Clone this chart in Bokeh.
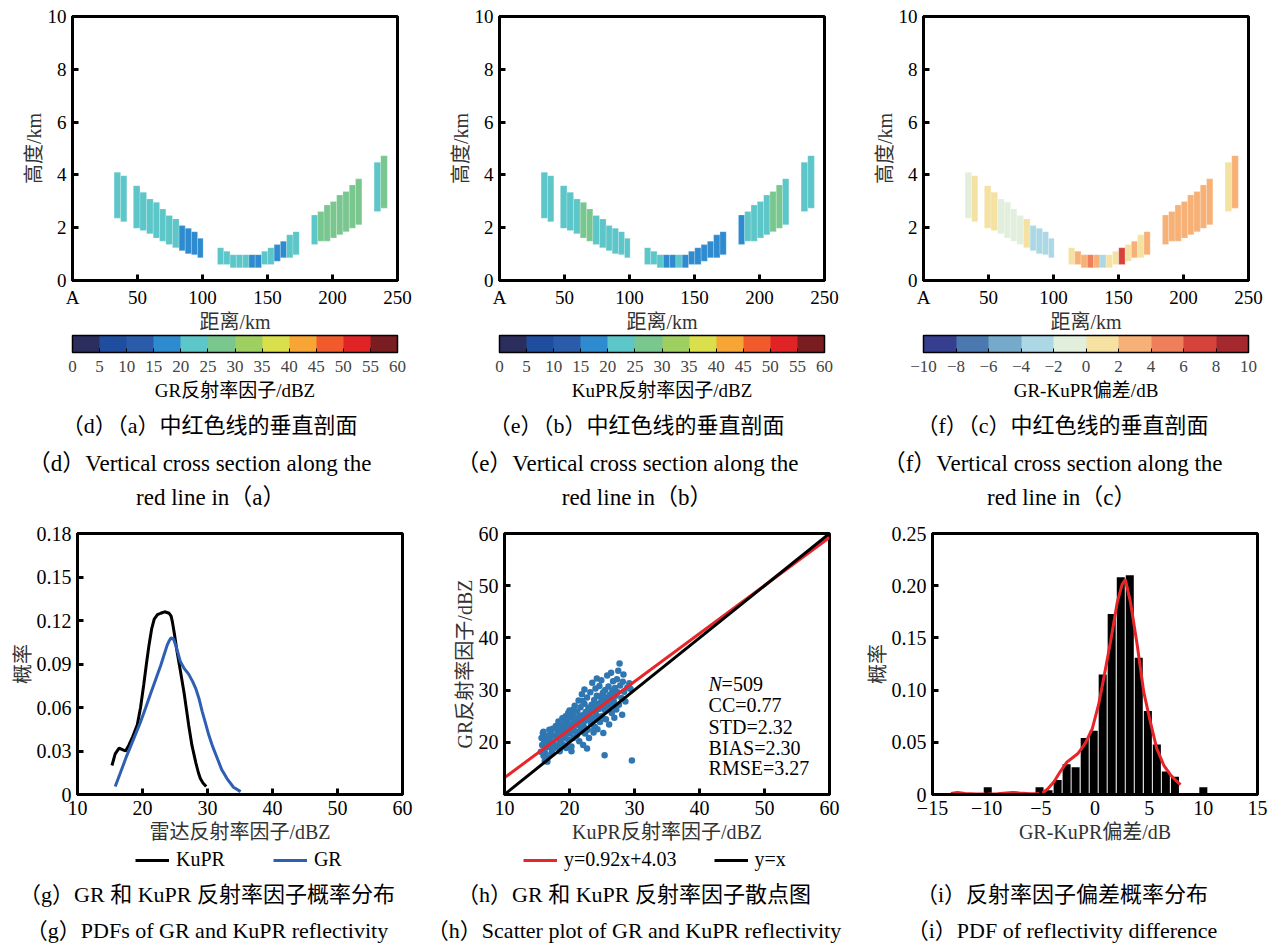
from bokeh.plotting import figure
from bokeh.layouts import column, row
from bokeh.models import (ColumnDataSource, LinearColorMapper, ColorBar, FixedTicker,
                          Title, Legend, LegendItem, Label)
from bokeh.transform import linear_cmap
from bokeh.embed import file_html
from bokeh.resources import INLINE

SERIF = "Liberation Serif"
FONT = '"Liberation Serif", "Noto Sans CJK SC"'

# ---------------- cross-section data (d)(e)(f) ----------------
col_left = [32.0, 37.0,
            46.8, 51.9, 57.0, 62.1, 67.0, 71.8, 76.9, 82.0, 86.7, 91.5, 96.2,
            111.5, 116.3, 121.2, 126.0, 130.9, 135.7, 140.5, 145.4, 150.2, 155.1, 159.9, 164.7, 169.6,
            183.8, 188.6, 193.5, 198.3, 203.2, 208.0, 212.9, 217.7,
            232.0, 237.1]
col_right = [37.0, 41.8,
             51.9, 57.0, 62.1, 67.0, 71.8, 76.9, 82.0, 86.7, 91.5, 96.2, 100.5,
             116.3, 121.2, 126.0, 130.9, 135.7, 140.5, 145.4, 150.2, 155.1, 159.9, 164.7, 169.6, 174.4,
             188.6, 193.5, 198.3, 203.2, 208.0, 212.9, 217.7, 222.6,
             237.1, 242.2]
col_bottom = [2.36, 2.23,
              1.98, 1.89, 1.77, 1.61, 1.49, 1.36, 1.24, 1.13, 1.01, 0.98, 0.86,
              0.61, 0.61, 0.48, 0.48, 0.48, 0.48, 0.48, 0.61, 0.61, 0.73, 0.86, 0.86, 0.98,
              1.36, 1.49, 1.49, 1.61, 1.73, 1.85, 1.98, 2.11,
              2.61, 2.74]
col_top = [4.10, 3.97,
           3.59, 3.34, 3.09, 2.96, 2.71, 2.46, 2.33, 2.08, 1.98, 1.85, 1.60,
           1.24, 1.11, 0.98, 0.98, 0.98, 0.98, 0.98, 1.11, 1.24, 1.36, 1.49, 1.73, 1.85,
           2.48, 2.61, 2.86, 2.99, 3.24, 3.37, 3.62, 3.85,
           4.48, 4.73]
gr_dbz = [22.5, 23.4,
          23.8, 22.9, 24.1, 22.6, 23.5, 21.8, 22.2, 17.6, 18.4, 17.9, 18.8,
          21.4, 22.3, 23.1, 24.0, 22.7, 18.9, 17.5, 21.6, 22.8, 18.2, 19.1, 21.3, 22.0,
          21.7, 26.4, 27.1, 26.8, 27.5, 28.0, 27.3, 26.9,
          24.2, 27.6]
ku_dbz = [22.8, 21.9,
          22.6, 21.7, 24.5, 26.0, 25.7, 23.9, 22.4, 21.1, 21.5, 20.6, 20.9,
          20.8, 21.5, 22.4, 19.2, 18.6, 21.3, 16.9, 18.1, 16.4, 17.2, 17.5, 16.8, 17.9,
          18.5, 23.4, 22.9, 24.6, 23.8, 26.3, 25.8, 22.7,
          21.3, 24.4]
diff_db = [-0.6, 1.3,
           1.1, 1.0, -0.4, -1.2, -0.9, -1.6, 0.8, -2.6, -3.1, -2.7, -2.3,
           0.9, 2.4, 2.8, 4.6, 2.5, -2.4, 0.6, 1.4, 6.3, 1.0, 2.6, 1.5, 2.7,
           3.2, 2.9, 3.5, 2.6, 3.7, 2.2, 2.8, 3.4,
           1.6, 3.1]

dist_ticks = [0, 50, 100, 150, 200, 250]
height_ticks = [0, 2, 4, 6, 8, 10]
dbz_ticks = [0, 5, 10, 15, 20, 25, 30, 35, 40, 45, 50, 55, 60]
diff_ticks = [-10, -8, -6, -4, -2, 0, 2, 4, 6, 8, 10]

DBZ_PALETTE = ["#2b2e5c", "#1f4e9e", "#2a5caa", "#2f8bcf", "#5cc6c9", "#79c78f",
               "#9fcf60", "#d9e04c", "#f7a635", "#f15a2b", "#e02426", "#7a1d20"]
DIFF_PALETTE = ["#363e90", "#4a78af", "#75aacb", "#acd8e6", "#e1efdc",
                "#f5e2a3", "#f7b176", "#ef7e5b", "#d6433a", "#a3292f"]

# ---------------- PDF data (g) ----------------
ku_pdf_x = [15.3, 15.8, 16.4, 16.9, 17.4, 17.9, 18.5, 19.2, 19.7, 20.2, 20.6, 21.0, 21.4, 21.8,
            22.3, 22.8, 23.4, 24.1, 24.4, 24.6, 24.9, 25.3, 25.8, 26.4, 27.1, 27.6, 28.2, 28.6,
            28.9, 29.3, 29.8]
ku_pdf_y = [0.020, 0.028, 0.032, 0.031, 0.030, 0.034, 0.040, 0.048, 0.060, 0.076, 0.090, 0.103,
            0.114, 0.121, 0.124, 0.125, 0.126, 0.125, 0.123, 0.119, 0.111, 0.099, 0.086, 0.070,
            0.048, 0.034, 0.022, 0.015, 0.011, 0.008, 0.0055]
gr_pdf_x = [15.8, 16.6, 17.6, 18.7, 19.7, 20.5, 21.2, 22.0, 22.8, 23.3, 23.8, 24.1, 24.4, 24.8,
            25.1, 25.5, 25.8, 26.4, 27.1, 27.7, 28.2, 28.7, 29.2, 29.7, 30.2, 30.8, 31.5, 32.2,
            33.0, 34.0, 35.1]
gr_pdf_y = [0.0055, 0.015, 0.027, 0.039, 0.050, 0.060, 0.069, 0.079, 0.089, 0.096, 0.103, 0.106,
            0.108, 0.107, 0.103, 0.097, 0.092, 0.087, 0.083, 0.078, 0.073, 0.066, 0.057, 0.049,
            0.041, 0.033, 0.025, 0.017, 0.011, 0.005, 0.002]
pdf_yticks = [0, 0.03, 0.06, 0.09, 0.12, 0.15, 0.18]
pdf_ylabels = ["0", "0.03", "0.06", "0.09", "0.12", "0.15", "0.18"]
refl_ticks = [10, 20, 30, 40, 50, 60]

# ---------------- scatter data (h) ----------------
ku_pts = [15.6, 15.8, 15.9, 16.0, 16.1, 16.2, 16.3, 16.4, 16.5, 16.6, 15.7, 16.0, 16.2, 16.6,
          16.8, 17.0, 17.1, 17.3, 17.4, 17.5, 17.7, 17.8, 17.9, 17.2, 17.6, 18.0, 16.9,
          18.1, 18.2, 18.3, 18.4, 18.5, 18.6, 18.7, 18.8, 18.9, 19.0, 19.1, 19.2, 19.3, 19.4, 19.5, 18.5, 19.0,
          19.6, 19.7, 19.8, 19.9, 20.0, 20.1, 20.2, 20.3, 20.4, 20.5, 20.6, 20.7, 20.8, 20.9, 21.0, 20.3, 19.8, 20.6,
          21.1, 21.2, 21.3, 21.4, 21.5, 21.6, 21.7, 21.8, 21.9, 22.0, 22.1, 22.2, 22.3, 22.4, 22.5, 21.5, 22.0, 21.2, 22.3,
          22.6, 22.7, 22.8, 22.9, 23.0, 23.1, 23.2, 23.3, 23.4, 23.5, 23.6, 23.7, 23.8, 23.9, 24.0, 22.7, 23.3, 23.9, 24.0,
          24.1, 24.2, 24.3, 24.4, 24.5, 24.6, 24.7, 24.8, 24.9, 25.0, 25.1, 25.2, 25.3, 25.4, 25.5, 24.4, 25.0, 25.4,
          25.6, 25.7, 25.8, 25.9, 26.0, 26.1, 26.2, 26.3, 26.4, 26.5, 26.6, 26.7, 26.8, 26.9, 27.0, 26.0, 26.5,
          27.1, 27.2, 27.3, 27.4, 27.5, 27.6, 27.7, 27.8, 28.0, 28.1, 28.2, 28.4, 28.6, 28.9, 29.2, 29.4, 29.6, 28.3,
          21.0, 22.0, 23.0, 24.0, 25.0, 26.0, 21.5, 22.5, 23.5, 24.5, 25.5, 22.2, 23.2, 24.2, 25.2, 23.8, 24.8, 20.5, 19.5, 18.5,
          17.4, 18.3, 19.2, 20.1, 21.3, 22.6, 23.6, 24.7, 25.8, 26.9, 17.0, 18.8, 20.7, 22.9, 24.3, 26.2]
gr_pts = [18.2, 19.5, 21.8, 17.4, 20.3, 16.4, 18.9, 21.2, 19.8, 17.1, 20.8, 22.0, 18.0, 16.3,
          20.6, 19.1, 21.9, 18.4, 22.6, 20.0, 21.3, 19.4, 23.1, 17.8, 18.9, 20.8, 22.4,
          22.4, 19.1, 24.0, 21.5, 18.3, 23.2, 20.4, 22.0, 24.6, 19.6, 21.4, 23.6, 20.9, 25.0, 18.9, 21.0, 22.7,
          22.3, 24.2, 20.5, 23.1, 26.1, 21.7, 24.8, 19.2, 22.9, 25.5, 20.8, 23.8, 27.0, 22.1, 24.6, 18.3, 25.6, 26.3,
          21.3, 25.9, 23.3, 28.0, 20.2, 24.4, 26.7, 22.7, 29.2, 25.2, 19.5, 23.9, 27.4, 21.7, 25.8, 22.0, 27.9, 23.6, 30.1,
          24.5, 28.6, 22.4, 26.6, 20.8, 25.0, 29.6, 23.5, 27.2, 31.4, 24.6, 21.9, 28.1, 26.0, 30.3, 18.8, 25.9, 23.0, 27.0,
          25.3, 32.2, 22.5, 28.8, 26.4, 30.8, 23.9, 27.6, 31.9, 25.0, 29.3, 21.8, 27.0, 17.5, 30.0, 24.3, 28.2, 26.2,
          24.4, 28.5, 32.8, 26.7, 30.7, 23.4, 29.1, 27.4, 33.3, 25.6, 29.9, 31.7, 27.9, 24.7, 30.4, 28.0, 27.0,
          28.9, 26.3, 32.1, 29.6, 33.7, 27.2, 35.1, 30.9, 28.5, 25.3, 31.6, 29.7, 27.8, 30.5, 31.3, 30.2, 16.5, 33.0,
          23.8, 24.6, 25.9, 26.8, 27.6, 28.7, 25.0, 25.6, 26.3, 27.3, 28.0, 23.0, 24.1, 28.9, 29.6, 22.5, 24.9, 22.6, 21.6, 20.1,
          19.9, 21.6, 22.1, 23.4, 24.0, 25.1, 26.4, 27.5, 28.3, 29.4, 21.0, 20.7, 23.9, 24.3, 26.9, 27.8]
fit_slope = 0.92
fit_intercept = 4.03
n_points = 509
stat_cc = 0.77
stat_std = 2.32
stat_bias = 2.30
stat_rmse = 3.27
scat_xticks = [10, 20, 30, 40, 50, 60]
scat_yticks = [20, 30, 40, 50, 60]

# ---------------- bias histogram (i) ----------------
hist_x = [-12.6, -9.9, -7.6, -5.12, -4.29, -3.45, -2.62, -1.79, -0.95, -0.12, 0.71, 1.54,
          2.38, 3.21, 4.04, 4.88, 5.71, 6.54, 7.38, 10.0]
hist_y = [0.002, 0.007, 0.002, 0.007, 0.004, 0.014, 0.029, 0.026, 0.054, 0.061, 0.115, 0.173,
          0.208, 0.210, 0.131, 0.080, 0.048, 0.022, 0.017, 0.007]
kde_x = [-13.3, -12.7, -12.0, -11.0, -10.0, -9.0, -8.2, -7.6, -7.0, -6.0, -5.2, -4.8, -4.4,
         -3.8, -3.2, -2.6, -2.1, -1.6, -0.9, -0.25, 0.33, 0.8, 1.43, 2.05, 2.5, 2.8, 3.28, 3.9,
         4.5, 5.1, 5.7, 6.35, 6.96, 7.5, 7.9]
kde_y = [0.001, 0.002, 0.001, 0.0005, 0.0005, 0.0008, 0.0015, 0.002, 0.0015, 0.0008, 0.001,
         0.002, 0.005, 0.012, 0.022, 0.031, 0.035, 0.039, 0.049, 0.063, 0.086, 0.111, 0.146,
         0.184, 0.201, 0.206, 0.184, 0.143, 0.098, 0.070, 0.044, 0.028, 0.019, 0.013, 0.0095]
bias_xticks = [-15, -10, -5, 0, 5, 10, 15]
bias_yticks = [0, 0.05, 0.10, 0.15, 0.20, 0.25]
bias_ylabels = ["0", "0.05", "0.10", "0.15", "0.20", "0.25"]

MINUS = "\u2212"


def style(p, xlabel, ylabel, tick_size, xlab_standoff):
    p.xgrid.visible = False
    p.ygrid.visible = False
    p.outline_line_color = "black"
    p.outline_line_width = 3
    p.outline_line_alpha = 1.0
    p.xaxis.axis_label = xlabel
    p.yaxis.axis_label = ylabel
    for ax in (p.xaxis[0], p.yaxis[0]):
        ax.axis_line_color = "black"
        ax.axis_line_width = 3
        ax.major_tick_in = 6
        ax.major_tick_out = 0
        ax.major_tick_line_width = 3
        ax.major_tick_line_color = "black"
        ax.minor_tick_line_color = None
        ax.major_label_text_font = SERIF
        ax.major_label_text_font_size = tick_size
        ax.major_label_text_color = "black"
        ax.axis_label_text_font = FONT
        ax.axis_label_text_font_size = "20px"
        ax.axis_label_text_font_style = "normal"
        ax.axis_label_text_color = "#333333"
        ax.major_label_standoff = 6
        ax.axis_label_standoff = 0
    p.xaxis[0].axis_label_standoff = xlab_standoff


def add_title(p, txt, standoff, size, align="center", offset=0):
    p.add_layout(Title(text=txt, align=align, text_font=FONT, text_font_size=size,
                       text_font_style="normal", text_color="black", standoff=standoff,
                       offset=offset), "below")


def section(vals, palette, low, high, cb_ticks, cb_over, cb_label, caps, bl, br):
    p = figure(width=425, height=510, frame_width=325, frame_height=264,
               x_range=(0, 250), y_range=(0, 10), output_backend="svg",
               toolbar_location=None, min_border_left=bl, min_border_right=br,
               min_border_top=16, min_border_bottom=230)
    src = ColumnDataSource(dict(left=col_left, right=col_right, bottom=col_bottom,
                                top=col_top, val=vals))
    p.quad(left="left", right="right", bottom="bottom", top="top", source=src,
           fill_color=linear_cmap("val", palette, low, high),
           line_color="white", line_alpha=0.35, line_width=0.6)
    p.xaxis.ticker = FixedTicker(ticks=dist_ticks)
    p.xaxis.major_label_overrides = {0: "A"}
    p.yaxis.ticker = FixedTicker(ticks=height_ticks)
    style(p, "距离/km", "高度/km", "19px", 0)
    mapper = LinearColorMapper(palette=palette, low=low, high=high)
    cb = ColorBar(color_mapper=mapper, orientation="horizontal", width=325, height=17,
                  ticker=FixedTicker(ticks=cb_ticks), major_label_overrides=cb_over,
                  major_label_text_font=SERIF, major_label_text_font_size="17px",
                  major_tick_line_color="black", major_tick_in=4, major_tick_out=0,
                  bar_line_color="black", bar_line_width=1.5, border_line_color=None,
                  background_fill_alpha=0, padding=0, margin=0, label_standoff=8)
    p.add_layout(cb, "below")
    add_title(p, cb_label, 7, "19px")
    # captions are right-aligned; the offsets move them left to where the reference has them
    add_title(p, caps[0], 12, "22px", "right", 40)
    add_title(p, caps[1], 11, "23px", "right", 26)
    add_title(p, caps[2], 3, "23px", "right", 112)
    return p


pd_ = section(gr_dbz, DBZ_PALETTE, 0, 60, dbz_ticks, {}, "GR反射率因子/dBZ",
              ["（d）（a）中红色线的垂直剖面", "（d）Vertical cross section along the", "red line in（a）"],
              72, 28)
pe_ = section(ku_dbz, DBZ_PALETTE, 0, 60, dbz_ticks, {}, "KuPR反射率因子/dBZ",
              ["（e）（b）中红色线的垂直剖面", "（e）Vertical cross section along the", "red line in（b）"],
              74, 26)
diff_over = {t: (MINUS + str(-t) if t < 0 else str(t)) for t in diff_ticks}
pf_ = section(diff_db, DIFF_PALETTE, -10, 10, diff_ticks, diff_over, "GR-KuPR偏差/dB",
              ["（f）（c）中红色线的垂直剖面", "（f）Vertical cross section along the", "red line in（c）"],
              73, 29)


def bottom_fig(xr, yr, bl, br):
    return figure(width=425, height=331, frame_width=325, frame_height=261,
                  x_range=xr, y_range=yr, output_backend="svg", toolbar_location=None,
                  min_border_left=bl, min_border_right=br, min_border_top=22,
                  min_border_bottom=0)


def caption_fig(bl, legend_specs, x0, spacing, caps):
    # frame centred on the caption centre; legend drawn inside the frame
    q = figure(width=425, height=100, frame_width=325, frame_height=28,
               x_range=(0, 1), y_range=(0, 1), output_backend="svg", toolbar_location=None,
               min_border_left=bl, min_border_right=100 - bl, min_border_top=0,
               min_border_bottom=0, x_axis_location=None, y_axis_location=None)
    q.xgrid.visible = False
    q.ygrid.visible = False
    q.outline_line_color = None
    if legend_specs:
        items = []
        for lab, xs, ys, colr in legend_specs:
            r = q.line(x=xs, y=ys, line_color=colr, line_width=3)  # lies outside this frame
            items.append(LegendItem(label=lab, renderers=[r]))
        q.add_layout(Legend(items=items, orientation="horizontal", location=(x0, 2),
                            label_text_font=SERIF, label_text_font_size="20px",
                            label_text_color="black", glyph_width=34, glyph_height=20,
                            spacing=spacing, padding=0, margin=0, border_line_color=None,
                            background_fill_alpha=0, label_standoff=7))
    add_title(q, caps[0], 12, "22px")
    add_title(q, caps[1], 7, "22px")
    return q


# (g)
pg = bottom_fig((10, 60), (0, 0.18), 77, 23)
pg.line(ku_pdf_x, ku_pdf_y, line_color="black", line_width=3)
pg.line(gr_pdf_x, gr_pdf_y, line_color="#2f5fb3", line_width=3)
pg.xaxis.ticker = FixedTicker(ticks=refl_ticks)
pg.yaxis.ticker = FixedTicker(ticks=pdf_yticks)
pg.yaxis.major_label_overrides = dict(zip(pdf_yticks, pdf_ylabels))
style(pg, "雷达反射率因子/dBZ", "概率", "20px", 3)
cg = caption_fig(44, [("KuPR", ku_pdf_x, ku_pdf_y, "black"), ("GR", gr_pdf_x, gr_pdf_y, "#2f5fb3")],
                 91, 48, ["（g）GR 和 KuPR 反射率因子概率分布", "（g）PDFs of GR and KuPR reflectivity"])

# (h)
ph = bottom_fig((10, 60), (10, 60), 79, 21)
ph.scatter(ku_pts, gr_pts, size=6.5, color="#2f77b2", line_color=None)
line_x = [scat_xticks[0], scat_xticks[-1]]
fit_y = [fit_slope * v + fit_intercept for v in line_x]
ph.line(line_x, fit_y, line_color="#e8262a", line_width=3)
ph.line(line_x, line_x, line_color="black", line_width=3)
ph.xaxis.ticker = FixedTicker(ticks=scat_xticks)
ph.yaxis.ticker = FixedTicker(ticks=scat_yticks)
style(ph, "KuPR反射率因子/dBZ", "GR反射率因子/dBZ", "20px", 3)
stat_lines = ["=%d" % n_points, "CC=%.2f" % stat_cc, "STD=%.2f" % stat_std,
              "BIAS=%.2f" % stat_bias, "RMSE=%.2f" % stat_rmse]
stat_y = [31.1, 27.1, 23.0, 19.0, 15.0]
ph.add_layout(Label(x=41.4, y=stat_y[0], text="N", text_font=SERIF, text_font_size="20px",
                    text_font_style="italic", text_baseline="middle", text_color="black"))
ph.add_layout(Label(x=41.4, y=stat_y[0], x_offset=13, text=stat_lines[0], text_font=SERIF,
                    text_font_size="20px", text_baseline="middle", text_color="black"))
for t, yy in zip(stat_lines[1:], stat_y[1:]):
    ph.add_layout(Label(x=41.4, y=yy, text=t, text_font=SERIF, text_font_size="20px",
                        text_baseline="middle", text_color="black"))
ch = caption_fig(46, [("y=%.2fx+%.2f" % (fit_slope, fit_intercept), line_x, fit_y, "#e8262a"),
                      ("y=x", line_x, line_x, "black")],
                 52, 37, ["（h）GR 和 KuPR 反射率因子散点图", "（h）Scatter plot of GR and KuPR reflectivity"])

# (i)
pi = bottom_fig((-15, 15), (0, 0.25), 82, 18)
pi.vbar(x=hist_x, top=hist_y, width=0.74, fill_color="black", line_color=None)
pi.line(kde_x, kde_y, line_color="#e8262a", line_width=3)
pi.xaxis.ticker = FixedTicker(ticks=bias_xticks)
pi.xaxis.major_label_overrides = {t: (MINUS + str(-t) if t < 0 else str(t)) for t in bias_xticks}
pi.yaxis.ticker = FixedTicker(ticks=bias_yticks)
pi.yaxis.major_label_overrides = dict(zip(bias_yticks, bias_ylabels))
style(pi, "GR-KuPR偏差/dB", "概率", "20px", 3)
ci = caption_fig(49, [], 0, 0, ["（i）反射率因子偏差概率分布", "（i）PDF of reflectivity difference"])

layout = column(row(pd_, pe_, pf_), row(pg, ph, pi), row(cg, ch, ci))
open("out.html", "w").write(file_html(layout, INLINE))
